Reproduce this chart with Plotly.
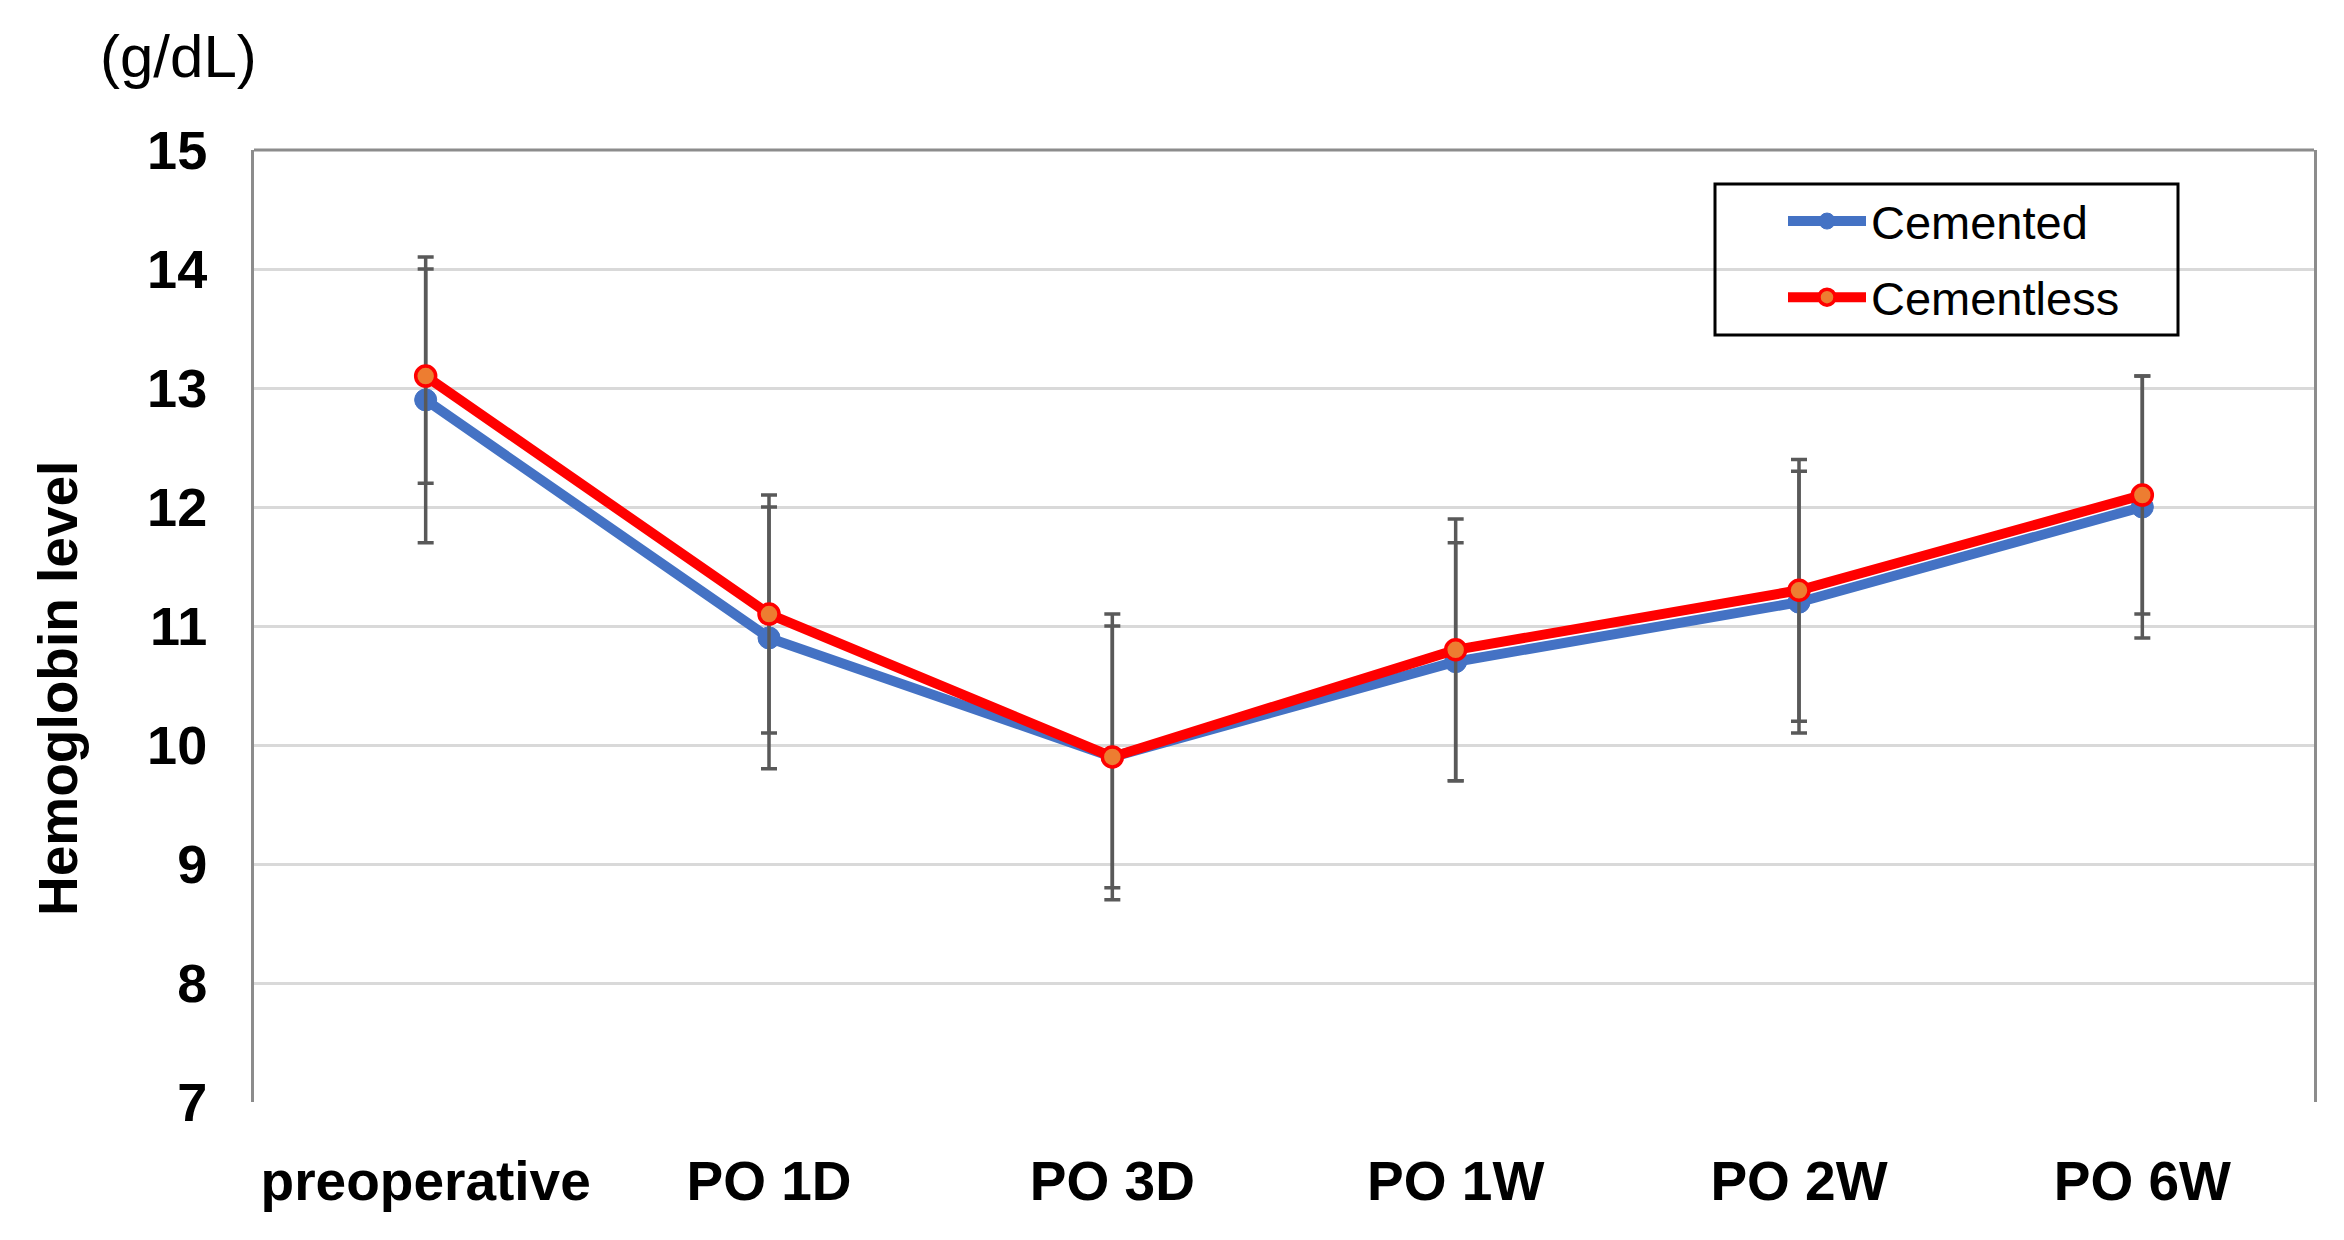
import plotly.graph_objects as go

categories = ["preoperative", "PO 1D", "PO 3D", "PO 1W", "PO 2W", "PO 6W"]
cemented = [12.9, 10.9, 9.9, 10.7, 11.2, 12.0]
cemented_sd = [1.2, 1.1, 1.2, 1.0, 1.1, 1.1]
cementless = [13.1, 11.1, 9.9, 10.8, 11.3, 12.1]
cementless_sd = [0.9, 1.0, 1.1, 1.1, 1.1, 1.0]
y_ticks = [7, 8, 9, 10, 11, 12, 13, 14, 15]

FONT = "Liberation Sans, Arial, sans-serif"
ERR = "#595959"

W, H = 2344, 1240
OFF = 8  # body margin of the page
PLOT_L, PLOT_R, PLOT_T, PLOT_B = 254, 2314, 150, 1102
L = PLOT_L - OFF
T = PLOT_T - OFF
R = W + OFF - PLOT_R
B = H + OFF - PLOT_B
PW = PLOT_R - PLOT_L
PH = PLOT_B - PLOT_T


def px(x):
    return (x - PLOT_L) / PW


def py(y):
    return (PLOT_B - y) / PH


fig = go.Figure()
fig.add_trace(go.Scatter(
    x=categories, y=cemented, name="Cemented", mode="lines+markers",
    legendgroup="a",
    line=dict(color="#4472C4", width=10),
    marker=dict(color="#4472C4", size=22, line=dict(color="#4472C4", width=1)),
    error_y=dict(type="data", array=cemented_sd, visible=True, color=ERR, thickness=3.5, width=8),
))
fig.add_trace(go.Scatter(
    x=categories, y=cementless, name="Cementless", mode="lines+markers",
    legendgroup="b",
    line=dict(color="#FF0000", width=10),
    marker=dict(color="#ED7D31", size=20, line=dict(color="#FF0000", width=3.5)),
    error_y=dict(type="data", array=cementless_sd, visible=True, color=ERR, thickness=3.5, width=8),
))

fig.update_layout(
    width=W, height=H,
    margin=dict(l=L, r=R, t=T, b=B),
    paper_bgcolor="white", plot_bgcolor="white",
    font=dict(family=FONT, color="black"),
    showlegend=True,
    legend=dict(
        x=px(1783), y=py(184),
        xanchor="left", yanchor="top",
        bgcolor="rgba(0,0,0,0)", borderwidth=0,
        font=dict(size=47, family=FONT, color="black"),
        itemwidth=78, tracegroupgap=12,
    ),
    xaxis=dict(
        type="category", range=[-0.5, 5.5],
        showgrid=False, showline=False, zeroline=False, ticks="",
        tickfont=dict(size=55, family=FONT, color="black", weight="bold"),
        ticklabelstandoff=42,
    ),
    yaxis=dict(
        range=[7, 15], tickvals=y_ticks, ticktext=[str(v) for v in y_ticks],
        showgrid=True, gridcolor="#D9D9D9", gridwidth=3,
        showline=True, linecolor="#8C8C8C", linewidth=3, mirror=True,
        zeroline=False, ticks="",
        tickfont=dict(size=54, family=FONT, color="black", weight="bold"),
        ticklabelstandoff=33,
    ),
    shapes=[
        dict(type="line", xref="paper", yref="paper", x0=0, x1=1, y0=1, y1=1,
             line=dict(color="#8C8C8C", width=3)),
        dict(type="rect", xref="paper", yref="paper",
             x0=px(1715), x1=px(2178), y0=py(335), y1=py(184),
             line=dict(color="black", width=3), fillcolor="rgba(0,0,0,0)"),
    ],
    annotations=[
        dict(text="Hemoglobin level", xref="paper", yref="paper",
             x=px(58), y=py(689),
             xanchor="center", yanchor="middle", textangle=-90, showarrow=False,
             font=dict(size=55, family=FONT, color="black", weight="bold")),
        dict(text="(g/dL)", xref="paper", yref="paper",
             x=px(178), y=py(57),
             xanchor="center", yanchor="middle", showarrow=False,
             font=dict(size=60, family=FONT, color="black")),
    ],
)

fig.write_html("out.html")
